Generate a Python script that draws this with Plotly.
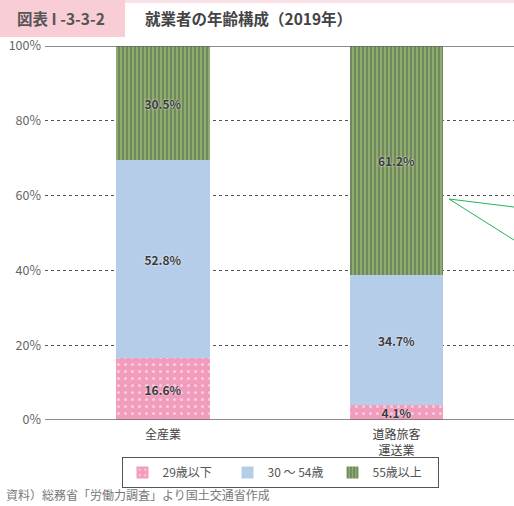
import plotly.graph_objects as go

# Age composition of employed persons, 2019 (percent)
categories = ["全産業", "道路旅客<br>運送業"]
age_groups = ["29歳以下", "30 ～ 54歳", "55歳以上"]
under_29 = [16.6, 4.1]
age_30_54 = [52.8, 34.7]
over_55 = [30.5, 61.2]
y_ticks = [0, 20, 40, 60, 80, 100]

FONT = "Noto Sans CJK JP"
W, H = 514, 506
L, R, T, B = 45, 0, 46, 86
PW, PH = W - L - R, H - T - B


def px_x(px):
    return (px - L) / PW


def px_y(py):
    return (H - B - py) / PH


xpos = list(range(len(categories)))
series = [
    (age_groups[0], under_29, dict(fillmode="overlay", bgcolor="#f19bbd", fgcolor="#ffffff",
                                   shape=".", size=7, solidity=0.15)),
    (age_groups[1], age_30_54, None),
    (age_groups[2], over_55, dict(fillmode="replace", bgcolor="#8dac6e", fgcolor="#5f6f52",
                                  shape="|", size=4, solidity=0.3)),
]
colors = ["#f19bbd", "#b6cde9", "#8dac6e"]

fig = go.Figure()
for (name, vals, pat), col in zip(series, colors):
    marker = dict(color=col, line=dict(width=0))
    if pat:
        marker["pattern"] = pat
    fig.add_trace(go.Bar(
        x=xpos, y=vals, name=name, width=0.40,
        marker=marker,
        text=[f"{v:.1f}%" for v in vals],
        textposition="inside", insidetextanchor="middle",
        textangle=0,
        textfont=dict(family=FONT, size=12, color="#3a3a3a", weight="bold",
                      shadow="0px 0px 2px #ffffff"),
        cliponaxis=False,
    ))

shapes = [
    # top border strip and header label box
    dict(type="rect", xref="paper", yref="paper", x0=px_x(0), x1=px_x(W), y0=px_y(3), y1=px_y(0),
         fillcolor="#fbe1e6", line=dict(width=0), layer="below"),
    dict(type="rect", xref="paper", yref="paper", x0=px_x(0), x1=px_x(125), y0=px_y(37), y1=px_y(0),
         fillcolor="#f9cdd5", line=dict(width=0), layer="below"),
    # solid frame lines at 0% and 100%
    dict(type="line", xref="paper", yref="y", x0=0, x1=1, y0=0, y1=0,
         line=dict(color="#666666", width=1.5)),
    dict(type="line", xref="paper", yref="y", x0=0, x1=1, y0=100, y1=100,
         line=dict(color="#666666", width=1.5)),
    # callout leader lines
    dict(type="line", xref="paper", yref="paper", x0=px_x(449), y0=px_y(199), x1=px_x(514), y1=px_y(207),
         line=dict(color="#1fb45a", width=1)),
    dict(type="line", xref="paper", yref="paper", x0=px_x(449), y0=px_y(199), x1=px_x(514), y1=px_y(240),
         line=dict(color="#1fb45a", width=1)),
]

annotations = [
    dict(text="図表 I -3-3-2", xref="paper", yref="paper", x=px_x(61), y=px_y(18),
         xanchor="center", yanchor="middle", showarrow=False,
         font=dict(family=FONT, size=15.5, color="#555555", weight="bold")),
    dict(text="就業者の年齢構成（2019年）", xref="paper", yref="paper", x=px_x(143), y=px_y(18),
         xanchor="left", yanchor="middle", showarrow=False,
         font=dict(family=FONT, size=15.5, color="#444444", weight="bold")),
    dict(text="資料）総務省「労働力調査」より国土交通省作成", xref="paper", yref="paper",
         x=px_x(4), y=px_y(495), xanchor="left", yanchor="middle", showarrow=False,
         font=dict(family=FONT, size=12, color="#777777")),
]

fig.update_layout(
    width=W, height=H,
    margin=dict(l=L, r=R, t=T, b=B),
    paper_bgcolor="white", plot_bgcolor="white",
    barmode="stack",
    bargap=0,
    uniformtext=dict(minsize=12, mode="show"),
    font=dict(family=FONT, size=11, color="#555555"),
    showlegend=True,
    legend=dict(orientation="h", x=px_x(280), y=px_y(457), xanchor="center", yanchor="top",
                bordercolor="#555555", borderwidth=1, bgcolor="white",
                traceorder="normal",
                font=dict(family=FONT, size=12, color="#555555"),
                itemwidth=30, tracegroupgap=0,
                entrywidthmode="pixels", entrywidth=60),
    shapes=shapes,
    annotations=annotations,
    xaxis=dict(range=[-0.505, 1.503], tickvals=xpos, ticktext=categories,
               showgrid=False, zeroline=False, showline=False, ticks="",
               ticklabelstandoff=6,
               tickfont=dict(family=FONT, size=12, color="#444444")),
    yaxis=dict(range=[0, 100], tickvals=y_ticks, ticktext=[f"{v}%" for v in y_ticks],
               showgrid=True, gridcolor="#555555", griddash="dot", gridwidth=1,
               zeroline=False, showline=False, ticks="", ticklabelstandoff=3,
               tickfont=dict(family=FONT, size=12.5, color="#666666")),
)

fig.write_html("out.html")
